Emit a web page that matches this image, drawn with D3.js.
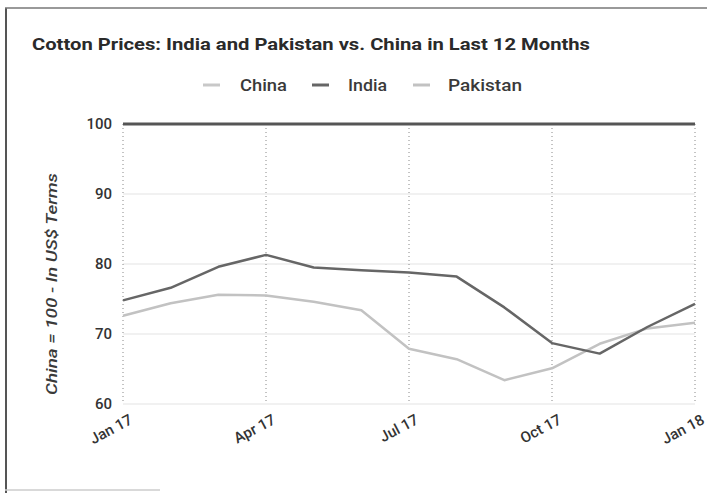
<!DOCTYPE html>
<html>
<head>
<meta charset="utf-8">
<script src="https://cdn.jsdelivr.net/npm/d3@7"></script>
<style>
  body { margin: 0; background: #fff; }
  text { font-family: Roboto, "Noto Sans", sans-serif; }
</style>
</head>
<body>
<div id="chart"></div>
<script>
// monthly values, China = 100
const months = ["Jan 17","Feb 17","Mar 17","Apr 17","May 17","Jun 17","Jul 17","Aug 17","Sep 17","Oct 17","Nov 17","Dec 17","Jan 18"];
const china = [100,100,100,100,100,100,100,100,100,100,100,100,100];
const india = [74.8,76.6,79.6,81.3,79.5,79.1,78.8,78.2,73.8,68.7,67.2,71.0,74.3];
const pakistan = [72.6,74.4,75.6,75.5,74.6,73.4,67.9,66.4,63.4,65.1,68.6,70.8,71.6];
const tickMonths = ["Jan 17","Apr 17","Jul 17","Oct 17","Jan 18"];
const yTicks = [60,70,80,90,100];

const series = [
  {name: "China", values: china, color: "#555", legend: "#c8c8c8"},
  {name: "India", values: india, color: "#666", legend: "#666"},
  {name: "Pakistan", values: pakistan, color: "#c2c2c2", legend: "#c2c2c2"}
];

const W = 707, H = 493;
const margin = {top: 124, left: 123, right: 12, bottom: 89};

const svg = d3.select("#chart").append("svg")
  .attr("width", W).attr("height", H);

// page frame (scan edges)
svg.append("line").attr("x1", 6).attr("x2", 6).attr("y1", 8).attr("y2", H)
  .attr("stroke", "#555").attr("stroke-width", 2);
svg.append("line").attr("x1", 5).attr("x2", W).attr("y1", 8).attr("y2", 8)
  .attr("stroke", "#777").attr("stroke-width", 1.5);
svg.append("line").attr("x1", 5).attr("x2", 160).attr("y1", 490).attr("y2", 490)
  .attr("stroke", "#ccc").attr("stroke-width", 1.5);

const x = d3.scalePoint().domain(months).range([margin.left, W - margin.right]);
const y = d3.scaleLinear().domain([60, 100]).range([404, margin.top]);

// title
svg.append("text")
  .attr("x", 32).attr("y", 50)
  .attr("font-size", 17).attr("font-weight", "bold").attr("fill", "#2a2a2a")
  .attr("textLength", 558).attr("lengthAdjust", "spacingAndGlyphs")
  .text("Cotton Prices: India and Pakistan vs. China in Last 12 Months");

// legend
const legendPos = [{sx: 203, tx: 240, w: 47}, {sx: 312, tx: 348, w: 39}, {sx: 413, tx: 448, w: 74}];
const legend = svg.append("g");
series.forEach((s, i) => {
  legend.append("line")
    .attr("x1", legendPos[i].sx).attr("x2", legendPos[i].sx + 17)
    .attr("y1", 85).attr("y2", 85)
    .attr("stroke", s.legend).attr("stroke-width", 3);
  legend.append("text")
    .attr("x", legendPos[i].tx).attr("y", 91)
    .attr("font-size", 16).attr("font-weight", 500).attr("fill", "#3a3a3a")
    .attr("textLength", legendPos[i].w).attr("lengthAdjust", "spacingAndGlyphs")
    .text(s.name);
});

// horizontal grid
svg.append("g").selectAll("line").data(yTicks.slice(0, -1)).join("line")
  .attr("x1", margin.left).attr("x2", W - margin.right)
  .attr("y1", d => y(d)).attr("y2", d => y(d))
  .attr("stroke", "#ececec").attr("stroke-width", 1.5);

// vertical dotted grid at quarters
svg.append("g").selectAll("line").data(tickMonths).join("line")
  .attr("x1", d => x(d)).attr("x2", d => x(d))
  .attr("y1", margin.top).attr("y2", 404)
  .attr("stroke", "#888").attr("stroke-width", 1)
  .attr("stroke-dasharray", "1,3");

// y axis
const yAxis = svg.append("g")
  .attr("transform", `translate(${margin.left},0)`)
  .call(d3.axisLeft(y).tickValues(yTicks).tickSize(0).tickPadding(11));
yAxis.select(".domain").remove();
yAxis.selectAll("text").attr("font-size", 15).attr("fill", "#333")
  .attr("font-weight", 500)
  .style("font-family", "Roboto, sans-serif");

// x axis
const xAxis = svg.append("g")
  .attr("transform", `translate(0,404)`)
  .call(d3.axisBottom(x).tickValues(tickMonths).tickSize(0));
xAxis.select(".domain").remove();
xAxis.selectAll("text")
  .attr("font-size", 15).attr("fill", "#333")
  .attr("font-weight", 500)
  .attr("text-anchor", "end")
  .attr("y", 0).attr("dy", 0)
  .attr("transform", "translate(10,19) rotate(-28)")
  .style("font-family", "Roboto, sans-serif");

// y label
svg.append("text")
  .attr("transform", "translate(57,284) rotate(-90)")
  .attr("text-anchor", "middle")
  .attr("font-size", 15).attr("font-style", "italic").attr("font-weight", 500).attr("fill", "#3a3a3a")
  .attr("textLength", 222).attr("lengthAdjust", "spacingAndGlyphs")
  .text("China = 100 - In US$ Terms");

// lines
const line = d3.line()
  .x((d, i) => x(months[i]))
  .y(d => y(d));

svg.append("g").selectAll("path").data([series[2], series[1], series[0]]).join("path")
  .attr("d", s => line(s.values))
  .attr("fill", "none")
  .attr("stroke", s => s.color)
  .attr("stroke-width", s => s.name === "China" ? 3 : 2.5)
  .attr("stroke-linejoin", "round");
</script>
</body>
</html>
